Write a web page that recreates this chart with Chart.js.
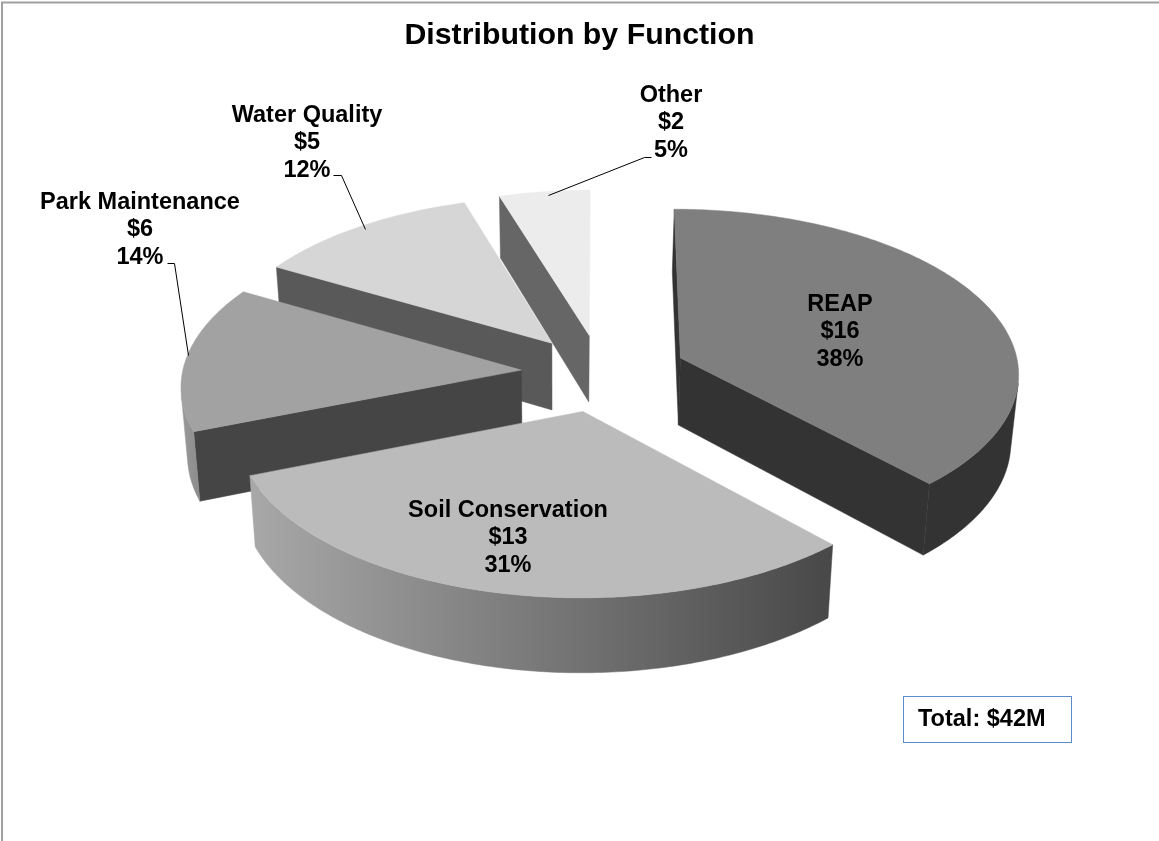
<!DOCTYPE html>
<html><head><meta charset="utf-8">
<script src="https://cdn.jsdelivr.net/npm/chart.js@4"></script>
<style>html,body{margin:0;padding:0;background:#fff}canvas{display:block}</style>
</head><body><canvas id="c" width="1159" height="841"></canvas>
<script>
const categories = ["REAP","Soil Conservation","Park Maintenance","Water Quality","Other"];
const values = [16,13,6,5,2];
const percents = [38,31,14,12,5];
const explode = [86,80,80,80,80];
const topColors = ["#7f7f7f","#bbbbbb","#a2a2a2","#d6d6d6","#ececec"];
const cutColors = ["#333333","#4a4a4a","#454545","#595959","#666666"];
const wallStops = [["#333333","#333333"],["#a8a8a8","#484848"],["#9a9a9a","#6a6a6a"],["#595959","#595959"],["#666666","#666666"]];
const drawOrder = [4,3,2,0,1];

const view = {X0:601, Y0:373, R:339, tilt:0.483, k:0.00025, xc:560, lean:0.017, depthBack:62, depthFront:75};
const labelSpec = [
 {x:840,y:304.5},{x:508,y:510.5},{x:140,y:202.5},{x:307,y:115.5},{x:671,y:95.5}
];
const leaders = [null,null,
 [[167,263],[174,263],[188,355]],
 [[333,175],[341,175],[365,229]],
 [[651,157],[644,157],[548,195]]
];

function proj(u,v){
  const w=1/(1-view.k*v);
  return [view.X0+u*w, view.Y0+view.tilt*v*w];
}
function drop(p){
  const d=view.depthBack+(p[1]-200)*(view.depthFront-view.depthBack)/400;
  return [p[0]+(view.xc-p[0])*view.lean, p[1]+d];
}
function poly(ctx,pts,fill){
  ctx.beginPath();
  pts.forEach((p,i)=>i?ctx.lineTo(p[0],p[1]):ctx.moveTo(p[0],p[1]));
  ctx.closePath();
  ctx.fillStyle=fill; ctx.strokeStyle=fill; ctx.lineWidth=0.5; ctx.lineJoin='round';
  ctx.fill(); ctx.stroke();
}
function area(q){let s=0;q.forEach((p,i)=>{const n=q[(i+1)%q.length];s+=p[0]*n[1]-n[0]*p[1];});return s;}

function drawSlice(ctx,arc,i){
  const mid=(arc.startAngle+arc.endAngle)/2, off=arc.options.offset;
  const ox=Math.cos(mid)*off, oy=Math.sin(mid)*off, R=view.R;
  const A=proj(ox,oy), Ad=drop(A);
  const n=Math.ceil((arc.endAngle-arc.startAngle)/(Math.PI/240));
  const rim=[];
  for(let j=0;j<=n;j++){
    const a=arc.startAngle+(arc.endAngle-arc.startAngle)*j/n;
    rim.push(proj(ox+R*Math.cos(a),oy+R*Math.sin(a)));
  }
  const rimD=rim.map(drop);
  const s=rim[0], sd=rimD[0], e=rim[n], ed=rimD[n];
  const q1=[A,s,sd,Ad]; if(area(q1)<0) poly(ctx,q1,cutColors[i]);
  const q2=[e,A,Ad,ed]; if(area(q2)<0) poly(ctx,q2,cutColors[i]);
  const xs=rim.map(p=>p[0]); const x0=Math.min(...xs), x1=Math.max(...xs);
  const g=ctx.createLinearGradient(x0,0,x1,0);
  g.addColorStop(0,wallStops[i][0]); g.addColorStop(1,wallStops[i][1]);
  let run=null;
  const flush=()=>{ if(run){ poly(ctx,[...run.t,...run.b.reverse()],g); run=null; } };
  for(let j=0;j<n;j++){
    const q=[rim[j],rim[j+1],rimD[j+1],rimD[j]];
    if(area(q)<0){
      if(!run) run={t:[rim[j]],b:[rimD[j]]};
      run.t.push(rim[j+1]); run.b.push(rimD[j+1]);
    } else flush();
  }
  flush();
  poly(ctx,[A,...rim],topColors[i]);
}

const pie3d={
  id:'pie3d',
  beforeDatasetDraw(chart,args){
    const ctx=chart.ctx, arcs=chart.getDatasetMeta(args.index).data;
    ctx.save();
    drawOrder.forEach(i=>drawSlice(ctx,arcs[i],i));
    ctx.restore();
    return false;
  },
  afterDatasetsDraw(chart){
    const ctx=chart.ctx;
    ctx.save();
    ctx.strokeStyle="#000"; ctx.lineWidth=1;
    leaders.forEach(l=>{ if(!l) return; ctx.beginPath();
      l.forEach((p,i)=>i?ctx.lineTo(p[0]+.5,p[1]+.5):ctx.moveTo(p[0]+.5,p[1]+.5)); ctx.stroke();});
    ctx.fillStyle="#000"; ctx.textAlign="center"; ctx.textBaseline="middle";
    ctx.font='bold 23.5px "Liberation Sans", Arial, sans-serif';
    categories.forEach((c,i)=>{
      const L=labelSpec[i];
      [c,"$"+values[i],percents[i]+"%"].forEach((t,k)=>ctx.fillText(t,L.x,L.y+k*27.5));
    });
    ctx.strokeStyle="#5b8bc9"; ctx.lineWidth=1;
    ctx.strokeRect(903.5,696.5,168,46);
    ctx.textAlign="left";
    ctx.fillText("Total: $"+values.reduce((a,b)=>a+b,0)+"M",918,720);
    ctx.strokeStyle="#a0a0a0"; ctx.lineWidth=2;
    ctx.beginPath(); ctx.moveTo(2,841); ctx.lineTo(2,2.5); ctx.lineTo(1159,2.5); ctx.stroke();
    ctx.restore();
  }
};

new Chart(document.getElementById('c'),{
  type:'pie',
  data:{labels:categories,datasets:[{data:values,backgroundColor:topColors,offset:explode,borderWidth:0}]},
  options:{
    responsive:false,animation:false,
    layout:{padding:0},
    plugins:{
      legend:{display:false},tooltip:{enabled:false},
      title:{display:true,text:"Distribution by Function",color:"#000",
        font:{family:'"Liberation Sans", Arial, sans-serif',size:30.3,weight:'bold',lineHeight:1.2},
        padding:{top:17,bottom:4}}
    }
  },
  plugins:[pie3d]
});
</script></body></html>
